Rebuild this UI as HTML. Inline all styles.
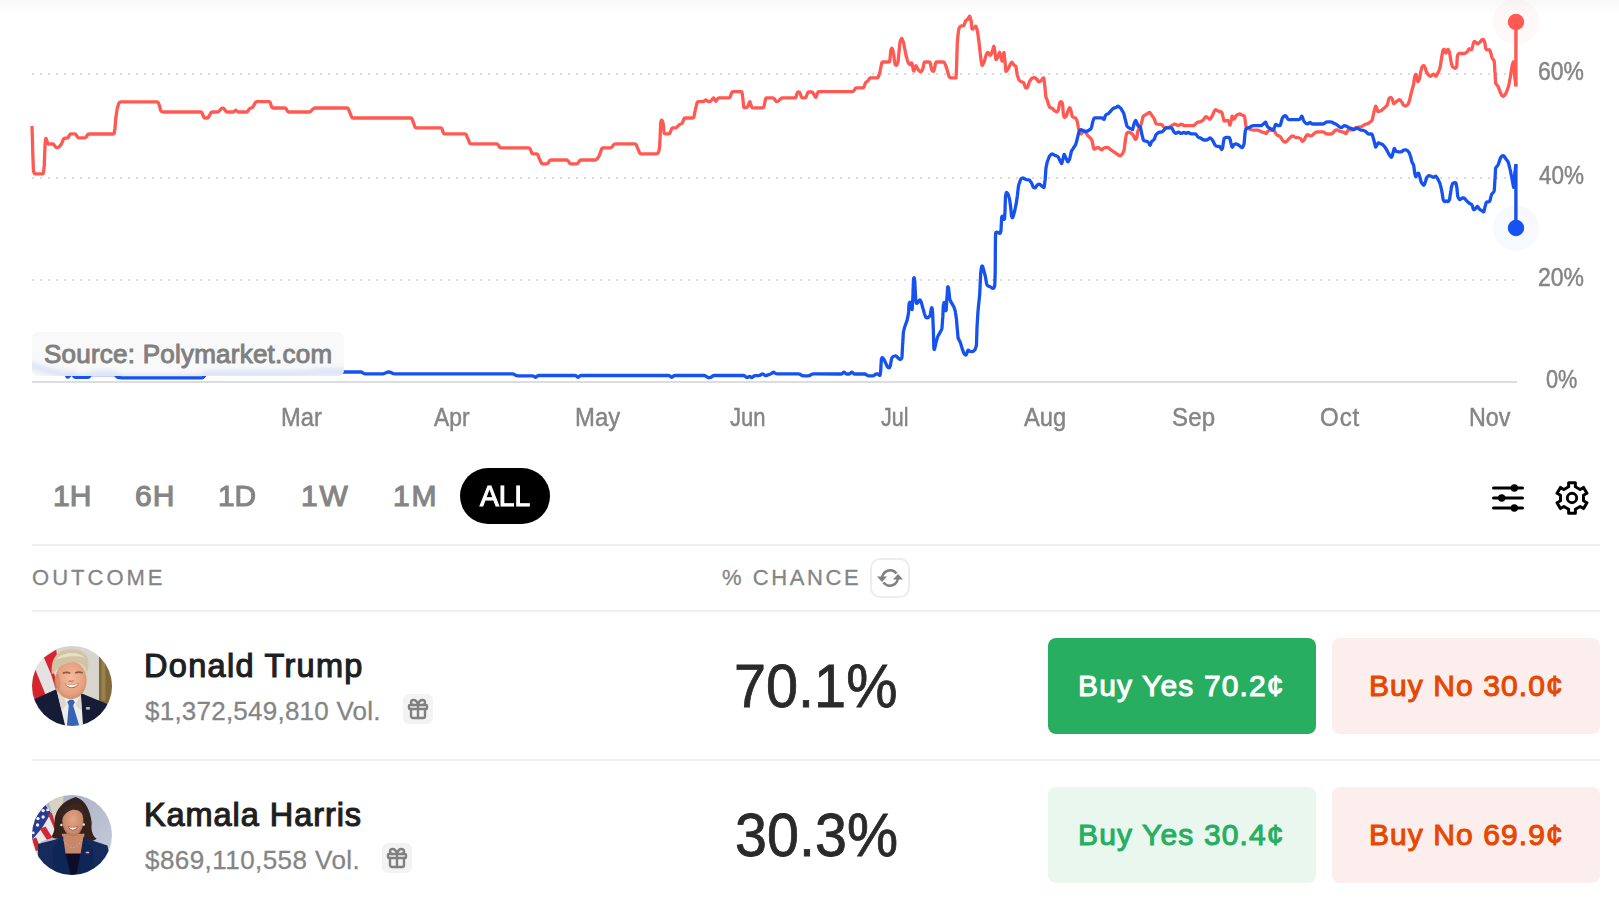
<!DOCTYPE html>
<html lang="en"><head><meta charset="utf-8"><title>Presidential Election Winner 2024</title>
<meta name="viewport" content="width=1619">
<style>
*{box-sizing:border-box;margin:0;padding:0}
html,body{width:1619px;height:907px;overflow:hidden;background:#fff}
body{font-family:"Liberation Sans",sans-serif;position:relative;color:#222}
#wrap{position:absolute;left:0;top:0;width:1619px;height:907px;overflow:hidden}
.t{position:absolute;white-space:nowrap;line-height:1;transform-origin:0 0}
.abs{position:absolute}
#topshade{position:absolute;left:0;top:0;width:1619px;height:14px;background:linear-gradient(#f8f8f8,#fafafa 25%,#fcfcfc 60%,#fff)}
#chart{position:absolute;left:0;top:0;width:1619px;height:400px}
.ax{font-size:24px;color:#858585;-webkit-text-stroke:.45px #858585}
.src{font-size:26px;color:#808080;-webkit-text-stroke:1px #808080}
.tb{font-size:30px;color:#858585;-webkit-text-stroke:1.15px #858585}
.tb.on{color:#fff;-webkit-text-stroke:1.15px #fff}
#pill{position:absolute;left:460px;top:468px;width:90px;height:56px;border-radius:28px;background:#000}
.sep{position:absolute;left:32px;width:1568px;height:2px;background:#f0f0f0}
.hd{font-size:22px;color:#858585;-webkit-text-stroke:.3px #858585}
#refresh{position:absolute;left:870px;top:558px;width:40px;height:40px;border:2px solid #ededed;border-radius:10px;background:#fff}
.av{position:absolute;left:32px;width:80px;height:80px;border-radius:50%;overflow:hidden}
.name{font-size:32.5px;color:#1f1f1f;-webkit-text-stroke:1.15px #1f1f1f}
.vol{font-size:26px;color:#858585;-webkit-text-stroke:.3px #858585}
.gift{position:absolute;width:30px;height:30px;border-radius:6px;background:#f3f3f3}
.pct{font-size:62px;color:#2a2a2a;-webkit-text-stroke:.8px #2a2a2a}
.btn{position:absolute;width:268px;height:96px;border-radius:8px}
.bt{font-size:30px}
.bg-yes1{background:#27ae60}.bg-yes2{background:#e9f7ef}.bg-no{background:#fdeeee}
.yes1{color:#fff;-webkit-text-stroke:1.05px #fff}
.yes2{color:#27ae60;-webkit-text-stroke:1.05px #27ae60}
.no{color:#e64800;-webkit-text-stroke:1.05px #e64800}
</style></head>
<body>
<div id="wrap">
<div id="topshade"></div>
<svg id="chart" width="1619" height="400" viewBox="0 0 1619 400">
<line x1="32" y1="74" x2="1518" y2="74" stroke="#dcdcdc" stroke-width="2" stroke-dasharray="2 6"/>
<line x1="32" y1="178" x2="1518" y2="178" stroke="#dcdcdc" stroke-width="2" stroke-dasharray="2 6"/>
<line x1="32" y1="280" x2="1518" y2="280" stroke="#dcdcdc" stroke-width="2" stroke-dasharray="2 6"/>
<line x1="32" y1="382" x2="1517" y2="382" stroke="#dddddd" stroke-width="2"/>
<circle cx="1516" cy="22" r="23" fill="#ff5952" fill-opacity=".04"/>
<circle cx="1516" cy="228" r="23" fill="#1652f0" fill-opacity=".035"/>
<path d="M32.0,126.0L32.7,149.0Q32.7,150.0 32.7,151.0L33.4,170.0Q33.4,171.0 33.8,171.9L34.1,173.0Q34.5,173.9 35.5,173.9L42.4,173.9Q43.4,173.9 43.5,172.9L44.2,166.0Q44.3,165.0 44.3,164.0L45.0,146.0Q45.0,145.0 45.1,144.0L45.7,138.9Q45.8,137.9 46.2,138.8L46.6,140.1Q47.0,141.0 47.3,142.0L47.5,143.0Q47.8,144.0 48.8,144.0L52.4,144.0Q53.4,144.0 54.0,144.8L54.9,146.2Q55.5,147.0 56.4,147.4L56.4,147.5Q57.3,147.9 58.1,147.4L58.7,147.0Q59.5,146.5 60.1,145.7L61.2,144.3Q61.8,143.5 62.1,142.6L62.7,140.9Q63.0,140.0 63.5,139.1L63.5,139.0Q64.0,138.1 65.0,138.1L66.9,138.1Q67.9,138.1 68.4,137.2L68.5,136.9Q69.0,136.0 69.4,135.1L69.7,134.7Q70.1,133.8 71.1,133.8L74.7,133.8Q75.7,133.8 76.1,134.7L76.4,135.1Q76.8,136.0 77.3,136.9L77.4,137.0Q77.9,137.9 78.9,137.9L84.7,137.9Q85.7,137.9 86.2,137.0L86.3,136.9Q86.8,136.0 87.3,135.1L87.4,134.9Q87.9,134.0 88.9,134.0L113.1,134.0Q114.1,134.0 114.2,133.0L114.9,129.0Q115.0,128.0 115.1,127.0L115.7,118.9Q115.8,117.9 116.0,116.9L117.0,110.0Q117.2,109.0 117.4,108.0L118.4,104.4Q118.6,103.4 119.3,102.7L119.5,102.5Q120.2,101.8 121.2,101.8L157.1,101.8Q158.1,101.8 158.4,102.7L159.2,105.1Q159.5,106.0 159.8,107.0L160.6,110.2Q160.9,111.2 161.8,111.6L161.8,111.6Q162.6,112.0 163.6,112.0L189.0,112.0Q190.0,112.0 191.0,112.0L200.7,112.0Q201.7,112.0 202.0,112.9L202.7,114.6Q203.0,115.5 203.4,116.4L203.8,117.1Q204.2,118.0 205.2,118.0L207.0,118.0Q208.0,118.0 208.5,117.1L209.2,115.9Q209.7,115.0 210.2,114.1L210.8,112.9Q211.3,112.0 212.3,112.0L217.3,112.0Q218.3,112.0 218.9,111.2L219.4,110.8Q220.0,110.0 220.7,109.3L221.3,108.7Q222.0,108.0 222.9,108.1L222.9,108.2Q223.8,108.3 224.4,109.1L224.4,109.2Q225.0,110.0 225.5,110.8L225.8,111.2Q226.3,112.0 227.3,112.0L232.7,112.0Q233.7,112.0 234.4,111.3L235.1,110.7Q235.8,110.0 236.5,110.7L237.3,111.3Q238.0,112.0 239.0,112.0L246.5,112.0Q247.5,112.0 248.0,111.1L248.1,110.9Q248.6,110.0 249.1,109.2L249.2,109.1Q249.7,108.3 250.7,108.0L251.5,107.8Q252.5,107.5 253.0,106.6L253.5,105.9Q254.0,105.0 254.5,104.1L255.3,102.6Q255.8,101.7 256.8,101.7L269.0,101.7Q270.0,101.7 270.3,102.7L270.7,104.0Q271.0,105.0 271.3,105.9L271.7,107.1Q272.0,108.0 273.0,108.0L284.8,108.0Q285.8,108.0 286.2,108.9L286.6,109.6Q287.0,110.5 287.5,111.2L287.5,111.2Q288.0,112.0 289.0,112.0L309.0,112.0Q310.0,112.0 310.7,111.3L311.3,110.7Q312.0,110.0 312.7,109.3L313.5,108.7Q314.2,108.0 315.2,108.0L347.0,108.0Q348.0,108.0 348.4,108.9L349.6,112.1Q350.0,113.0 350.4,113.9L351.6,117.1Q352.0,118.0 353.0,118.0L410.7,118.0Q411.7,118.0 412.0,118.9L413.2,122.1Q413.5,123.0 413.9,123.9L414.9,126.9Q415.3,127.8 416.3,127.8L440.7,127.8Q441.7,127.8 442.0,128.8L442.4,130.0Q442.7,131.0 443.0,131.9L443.4,132.9Q443.7,133.8 444.7,133.8L464.8,133.8Q465.8,133.8 466.2,134.7L467.6,138.1Q468.0,139.0 468.4,139.9L469.6,142.9Q470.0,143.8 471.0,143.8L496.5,143.8Q497.5,143.8 498.0,144.7L498.3,145.1Q498.8,146.0 499.4,146.8L499.4,147.0Q500.0,147.8 501.0,147.8L528.7,147.8Q529.7,147.8 530.1,148.7L530.6,150.1Q531.0,151.0 531.3,151.9L531.7,152.9Q532.0,153.8 533.0,153.8L536.5,153.8Q537.5,153.8 537.9,154.7L539.1,158.1Q539.5,159.0 539.9,159.9L541.3,162.9Q541.7,163.8 542.7,163.8L546.5,163.8Q547.5,163.8 548.1,163.0L548.2,162.8Q548.8,162.0 549.3,161.1L549.5,160.9Q550.0,160.0 551.0,160.0L566.5,160.0Q567.5,160.0 568.0,160.8L568.3,161.2Q568.8,162.0 569.4,162.8L569.4,163.0Q570.0,163.8 571.0,163.8L576.5,163.8Q577.5,163.8 578.1,163.0L578.2,162.8Q578.8,162.0 579.3,161.1L579.5,160.9Q580.0,160.0 581.0,160.0L594.8,160.0Q595.8,160.0 596.5,159.3L596.8,159.2Q597.5,158.5 598.0,157.7L598.7,156.6Q599.2,155.8 599.5,154.9L600.3,152.9Q600.6,152.0 600.9,151.1L601.7,148.7Q602.0,147.8 603.0,147.8L610.3,147.8Q611.3,147.8 611.9,147.0L612.2,146.8Q612.8,146.0 613.3,145.2L613.7,144.6Q614.2,143.8 615.2,143.8L634.8,143.8Q635.8,143.8 636.2,144.7L637.6,148.1Q638.0,149.0 638.4,149.9L639.6,152.9Q640.0,153.8 641.0,153.8L656.5,153.8Q657.5,153.8 658.0,152.9L658.3,152.4Q658.8,151.5 659.0,150.5L659.5,147.7Q659.7,146.7 659.7,145.7L660.3,133.0Q660.3,132.0 660.3,131.0L660.8,122.7Q660.8,121.7 661.2,120.8L661.3,120.6Q661.7,119.7 662.1,120.6L662.6,121.6Q663.0,122.5 663.1,123.5L663.5,127.0Q663.6,128.0 663.7,129.0L664.1,132.8Q664.2,133.8 665.2,133.8L668.7,133.8Q669.7,133.8 670.1,132.9L670.4,131.9Q670.8,131.0 671.2,130.1L671.6,128.7Q672.0,127.8 673.0,127.8L675.3,127.8Q676.3,127.8 677.0,127.1L677.3,126.7Q678.0,126.0 678.7,125.3L679.0,124.9Q679.7,124.2 680.7,124.0L681.0,124.0Q682.0,123.8 682.4,122.9L682.8,121.9Q683.2,121.0 683.5,120.1L683.9,118.9Q684.2,118.0 685.2,118.0L692.7,118.0Q693.7,118.0 693.9,117.0L694.3,115.0Q694.5,114.0 694.7,113.0L695.1,111.0Q695.3,110.0 695.5,109.0L696.2,106.0Q696.4,105.0 696.7,104.1L697.2,102.6Q697.5,101.7 698.5,101.7L702.3,101.7Q703.3,101.7 704.1,101.1L705.0,100.3Q705.8,99.7 706.6,100.3L707.5,101.1Q708.3,101.7 709.3,101.7L709.3,101.7Q710.3,101.7 710.9,100.9L711.4,100.3Q712.0,99.5 712.6,98.7L713.1,98.3Q713.7,97.5 714.1,98.4L715.4,100.8Q715.8,101.7 716.3,100.8L717.5,98.7Q718.0,97.8 719.0,97.8L729.0,97.8Q730.0,97.8 730.3,96.8L730.7,95.5Q731.0,94.5 731.3,93.6L731.7,92.6Q732.0,91.7 733.0,91.7L741.0,91.7Q742.0,91.7 742.1,92.7L742.8,98.0Q742.9,99.0 743.0,100.0L743.6,106.5Q743.7,107.5 744.7,107.5L746.5,107.5Q747.5,107.5 747.8,106.6L748.3,105.4Q748.6,104.5 748.9,103.6L749.4,102.2Q749.7,101.3 750.1,102.2L750.5,103.6Q750.9,104.5 751.2,105.4L751.7,106.9Q752.0,107.8 753.0,107.8L762.7,107.8Q763.7,107.8 763.9,106.8L764.6,103.5Q764.8,102.5 765.0,101.5L765.6,98.8Q765.8,97.8 766.8,97.8L772.7,97.8Q773.7,97.8 774.2,98.7L774.5,99.1Q775.0,100.0 775.6,100.8L775.7,100.9Q776.3,101.7 777.3,101.5L777.3,101.5Q778.3,101.3 779.0,100.6L779.3,100.2Q780.0,99.5 780.7,98.8L781.0,98.5Q781.7,97.8 782.7,97.8L794.8,97.8Q795.8,97.8 796.1,96.8L796.4,95.5Q796.7,94.5 797.0,93.5L797.2,93.0Q797.5,92.0 798.5,92.0L798.7,92.0Q799.7,92.0 800.0,92.9L800.4,94.1Q800.7,95.0 801.0,95.9L801.4,96.9Q801.7,97.8 802.7,97.8L804.8,97.8Q805.8,97.8 806.1,96.9L806.7,95.4Q807.0,94.5 807.4,93.6L807.6,92.9Q808.0,92.0 809.0,92.0L811.5,92.0Q812.5,92.0 813.0,92.9L813.7,94.1Q814.2,95.0 814.7,95.9L815.3,96.9Q815.8,97.8 816.1,96.9L816.7,95.4Q817.0,94.5 817.3,93.6L817.7,92.6Q818.0,91.7 819.0,91.7L852.3,91.7Q853.3,91.7 853.8,90.8L854.1,90.4Q854.6,89.5 855.2,88.7L855.2,88.6Q855.8,87.8 856.8,87.8L862.7,87.8Q863.7,87.8 864.1,86.9L864.4,85.9Q864.8,85.0 865.1,84.1L865.5,82.9Q865.8,82.0 866.6,81.7L866.6,81.7Q867.5,81.3 868.1,80.5L868.2,80.3Q868.8,79.5 869.4,78.7L869.4,78.6Q870.0,77.8 871.0,77.8L877.0,77.8Q878.0,77.8 878.3,76.9L878.7,75.9Q879.0,75.0 879.3,74.0L879.7,72.7Q880.0,71.7 880.2,70.7L880.8,67.5Q881.0,66.5 881.2,65.5L881.8,63.0Q882.0,62.0 883.0,62.0L888.7,62.0Q889.7,62.0 889.8,61.0L890.2,57.0Q890.3,56.0 890.4,55.0L890.7,51.0Q890.8,50.0 891.3,49.1L891.5,48.7Q892.0,47.8 892.3,48.7L893.0,50.8Q893.3,51.7 893.4,52.7L894.1,57.0Q894.2,58.0 894.3,59.0L894.9,63.2Q895.0,64.2 895.6,65.0L895.7,65.0Q896.3,65.8 896.8,64.9L897.5,63.4Q898.0,62.5 898.1,61.5L898.9,53.0Q899.0,52.0 899.1,51.0L899.9,42.7Q900.0,41.7 900.4,40.8L901.3,38.9Q901.7,38.0 902.1,38.9L902.9,40.8Q903.3,41.7 903.5,42.7L904.4,47.0Q904.6,48.0 904.8,49.0L905.6,53.2Q905.8,54.2 906.0,55.2L906.8,58.0Q907.0,59.0 907.3,60.0L908.0,62.0Q908.3,63.0 908.9,63.8L909.4,64.2Q910.0,65.0 910.6,64.2L911.1,63.3Q911.7,62.5 911.9,63.5L912.5,66.0Q912.7,67.0 912.9,68.0L913.5,70.7Q913.7,71.7 914.0,70.7L914.5,69.0Q914.8,68.0 915.1,67.1L915.5,66.2Q915.8,65.3 916.3,66.2L917.8,69.1Q918.3,70.0 919.1,70.6L920.0,71.4Q920.8,72.0 921.4,71.2L921.9,70.8Q922.5,70.0 922.7,69.0L923.2,67.0Q923.4,66.0 923.6,65.0L924.0,63.0Q924.2,62.0 925.2,62.0L929.0,62.0Q930.0,62.0 930.2,63.0L930.8,65.5Q931.0,66.5 931.2,67.5L931.8,69.8Q932.0,70.8 932.9,71.2L932.9,71.2Q933.7,71.7 933.9,70.7L934.6,68.0Q934.8,67.0 935.0,66.0L935.6,63.0Q935.8,62.0 936.8,62.0L943.2,62.0Q944.2,62.0 944.6,62.9L945.1,64.1Q945.5,65.0 945.8,65.9L946.4,67.4Q946.7,68.3 947.0,69.3L947.7,72.0Q948.0,73.0 948.3,74.0L948.9,76.0Q949.2,77.0 950.0,77.4L950.0,77.4Q950.8,77.8 951.8,77.8L954.8,77.8Q955.8,77.8 956.0,77.9L956.0,77.9Q956.1,78.0 956.1,77.0L956.7,64.0Q956.7,63.0 956.7,62.0L957.2,45.6Q957.2,44.6 957.3,43.6L957.9,36.0Q958.0,35.0 958.1,34.0L958.6,30.0Q958.7,29.0 959.2,28.1L960.1,26.7Q960.6,25.8 961.6,25.8L962.9,25.8Q963.9,25.8 964.2,24.8L965.3,21.6Q965.6,20.6 966.5,20.1L966.7,20.0Q967.6,19.5 968.1,18.6L969.3,16.5Q969.8,15.6 970.0,16.6L971.0,20.2Q971.2,21.2 971.3,22.2L972.0,28.5Q972.1,29.5 973.0,29.0L973.0,28.9Q973.9,28.4 974.5,27.6L975.2,26.6Q975.8,25.8 976.1,26.7L977.0,29.2Q977.3,30.1 977.4,31.1L978.9,41.3Q979.0,42.3 979.1,43.3L980.9,59.1Q981.0,60.1 981.2,61.1L981.9,64.9Q982.1,65.9 982.6,65.0L983.5,63.3Q984.0,62.4 984.3,61.4L985.9,55.6Q986.2,54.6 986.8,53.8L987.3,52.9Q987.9,52.1 988.5,52.9L989.7,54.9Q990.3,55.7 990.8,54.8L991.6,53.3Q992.1,52.4 992.3,51.4L993.6,46.7Q993.8,45.7 994.0,46.7L994.7,50.2Q994.9,51.2 995.0,52.2L995.8,59.1Q995.9,60.1 996.5,59.3L997.1,58.2Q997.7,57.4 998.0,56.5L999.3,52.7Q999.6,51.8 999.9,52.8L1000.7,55.8Q1001.0,56.8 1001.2,57.8L1001.9,60.8Q1002.1,61.8 1002.3,60.8L1003.8,52.8Q1004.0,51.8 1004.1,52.8L1005.0,61.4Q1005.1,62.4 1005.2,63.4L1005.8,70.8Q1005.9,71.8 1006.6,71.1L1007.2,70.3Q1007.9,69.6 1008.3,68.7L1009.7,65.5Q1010.1,64.6 1010.6,63.7L1011.3,62.7Q1011.8,61.8 1012.3,62.6L1013.5,64.4Q1014.0,65.2 1014.9,65.7L1015.0,65.8Q1015.9,66.3 1016.1,67.3L1017.2,74.7Q1017.4,75.7 1017.8,76.6L1018.7,79.3Q1019.1,80.2 1019.9,80.8L1020.5,81.3Q1021.3,81.9 1022.3,82.1L1022.7,82.2Q1023.7,82.4 1024.0,83.4L1025.2,87.0Q1025.5,88.0 1026.5,88.0L1026.5,88.0Q1027.4,88.0 1027.7,87.0L1029.0,82.9Q1029.3,81.9 1029.9,81.1L1031.3,78.8Q1031.9,78.0 1032.9,77.8L1033.7,77.6Q1034.7,77.4 1035.5,78.1L1036.1,78.6Q1036.9,79.3 1037.4,80.2L1038.1,81.3Q1038.6,82.2 1039.4,81.7L1040.0,81.3Q1040.8,80.8 1041.5,80.1L1043.1,78.1Q1043.8,77.4 1043.9,78.4L1044.8,85.9Q1044.9,86.9 1045.0,87.9L1045.7,95.9Q1045.8,96.9 1046.2,97.8L1047.1,99.9Q1047.5,100.8 1047.7,101.5L1047.7,101.5Q1047.8,102.3 1048.1,103.2L1049.2,106.4Q1049.5,107.3 1050.4,107.7L1051.4,108.0Q1052.3,108.4 1053.0,109.1L1054.4,110.7Q1055.1,111.4 1056.1,111.7L1056.3,111.8Q1057.3,112.1 1057.7,111.2L1058.3,109.9Q1058.7,109.0 1058.8,108.0L1059.4,103.9Q1059.5,102.9 1060.2,102.2L1060.5,101.9Q1061.2,101.2 1061.7,102.1L1062.0,102.5Q1062.5,103.4 1062.6,104.4L1063.3,113.6Q1063.4,114.6 1063.7,115.6L1064.0,116.9Q1064.3,117.9 1065.0,117.2L1065.5,116.9Q1066.2,116.2 1066.5,115.2L1068.1,110.5Q1068.4,109.5 1069.0,108.7L1069.3,108.1Q1069.9,107.3 1070.2,108.3L1070.7,109.7Q1071.0,110.7 1071.2,111.7L1071.9,115.2Q1072.1,116.2 1072.8,116.9L1073.3,117.2Q1074.0,117.9 1075.0,117.9L1075.0,117.9Q1075.9,117.9 1076.2,118.8L1077.0,120.9Q1077.3,121.8 1077.5,122.8L1078.3,127.5Q1078.5,128.5 1078.9,129.4L1080.6,133.5Q1081.0,134.4 1081.6,133.6L1083.4,130.9Q1084.0,130.1 1084.6,130.9L1087.3,134.9Q1087.9,135.7 1088.6,136.4L1091.1,138.9Q1091.8,139.6 1092.0,140.6L1093.3,147.0Q1093.5,148.0 1094.0,148.8L1094.0,148.8Q1094.4,149.6 1095.1,148.9L1096.1,148.1Q1096.8,147.4 1097.8,147.7L1098.1,147.7Q1099.1,148.0 1099.9,148.6L1101.0,149.4Q1101.8,150.0 1102.5,149.3L1103.4,148.4Q1104.1,147.7 1105.1,147.6L1107.0,147.5Q1108.0,147.4 1108.8,148.0L1110.5,149.6Q1111.3,150.2 1112.1,150.7L1113.9,151.9Q1114.7,152.4 1115.5,153.0L1117.2,154.1Q1118.0,154.7 1118.9,155.2L1119.3,155.5Q1120.2,156.0 1121.0,155.3L1121.6,154.8Q1122.4,154.1 1122.8,153.2L1123.7,151.1Q1124.1,150.2 1124.2,149.2L1125.1,142.3Q1125.2,141.3 1125.3,140.3L1126.2,135.0Q1126.3,134.0 1126.9,133.2L1127.4,132.6Q1128.0,131.8 1128.9,132.2L1129.9,132.5Q1130.8,132.9 1131.6,133.5L1132.2,134.0Q1133.0,134.6 1133.4,135.5L1134.9,138.7Q1135.3,139.6 1136.0,139.1L1136.0,139.1Q1136.7,138.5 1136.9,137.5L1137.6,132.3Q1137.8,131.3 1138.2,130.4L1141.0,124.4Q1141.4,123.5 1141.6,122.5L1142.9,117.2Q1143.1,116.2 1144.0,115.7L1144.9,115.1Q1145.8,114.6 1146.6,114.1L1148.9,112.6Q1149.7,112.1 1150.2,112.9L1151.5,114.9Q1152.0,115.7 1152.6,116.5L1153.6,117.7Q1154.2,118.5 1154.5,119.5L1155.6,123.0Q1155.9,124.0 1156.9,124.1L1161.0,124.3Q1162.0,124.4 1162.5,125.3L1163.2,126.5Q1163.7,127.4 1164.7,127.5L1167.0,127.7Q1168.0,127.8 1168.9,127.3L1171.7,125.6Q1172.6,125.1 1173.5,124.6L1173.9,124.3Q1174.8,123.8 1175.7,124.3L1177.2,125.2Q1178.1,125.7 1179.0,125.2L1180.4,124.5Q1181.3,124.0 1182.2,124.5L1183.4,125.2Q1184.3,125.7 1185.3,125.7L1192.7,125.7Q1193.7,125.7 1194.4,125.0L1196.4,123.1Q1197.1,122.4 1198.1,122.2L1199.4,122.0Q1200.4,121.8 1201.3,121.3L1202.3,120.6Q1203.2,120.1 1203.8,119.3L1205.4,117.0Q1206.0,116.2 1206.7,116.9L1207.1,117.2Q1207.8,117.9 1208.6,118.5L1209.2,119.0Q1210.0,119.6 1210.5,118.7L1211.8,116.6Q1212.3,115.7 1212.7,114.8L1214.1,111.6Q1214.5,110.7 1215.2,110.1L1215.2,110.1Q1215.8,109.5 1216.6,110.1L1217.6,110.8Q1218.4,111.4 1219.4,111.5L1220.7,111.7Q1221.7,111.8 1222.0,112.8L1222.5,114.7Q1222.8,115.7 1223.0,116.7L1223.7,120.2Q1223.9,121.2 1224.9,121.0L1225.2,120.9Q1226.2,120.7 1227.2,120.4L1227.4,120.4Q1228.4,120.1 1228.7,121.1L1229.6,124.7Q1229.9,125.7 1230.2,124.7L1230.9,121.7Q1231.2,120.7 1231.4,119.7L1231.9,116.7Q1232.1,115.7 1232.5,116.6L1233.6,118.7Q1234.0,119.6 1234.5,118.7L1235.7,116.3Q1236.2,115.4 1237.1,114.9L1238.6,114.2Q1239.5,113.7 1240.4,114.1L1242.0,115.0Q1242.9,115.4 1243.8,115.8L1243.8,115.8Q1244.6,116.2 1244.7,117.2L1245.3,121.4Q1245.4,122.4 1245.5,123.4L1246.1,126.9Q1246.2,127.9 1247.1,128.2L1251.5,129.8Q1252.4,130.1 1253.4,130.1L1257.5,130.1Q1258.5,130.1 1259.3,130.6L1261.0,131.7Q1261.8,132.2 1262.8,132.3L1263.6,132.3Q1264.6,132.4 1265.3,133.1L1265.6,133.3Q1266.3,134.0 1266.7,133.1L1267.5,131.6Q1267.9,130.7 1268.9,130.5L1270.3,130.3Q1271.3,130.1 1272.3,130.4L1273.6,130.7Q1274.6,131.0 1275.0,131.9L1275.9,133.7Q1276.3,134.6 1277.1,135.1L1277.2,135.2Q1278.0,135.7 1279.0,136.0L1279.2,136.0Q1280.2,136.3 1280.7,137.2L1281.9,139.3Q1282.4,140.2 1283.1,140.9L1284.0,141.7Q1284.7,142.4 1285.6,142.0L1286.0,141.7Q1286.9,141.3 1287.5,140.5L1289.1,138.7Q1289.7,137.9 1290.5,137.3L1291.6,136.3Q1292.4,135.7 1293.3,136.2L1294.3,136.9Q1295.2,137.4 1296.2,137.5L1297.6,137.6Q1298.6,137.7 1299.5,138.0L1299.9,138.2Q1300.8,138.5 1301.2,139.4L1301.9,140.9Q1302.3,141.8 1303.0,141.1L1303.4,140.9Q1304.1,140.2 1304.5,139.3L1305.4,137.2Q1305.8,136.3 1306.5,135.6L1306.8,135.1Q1307.5,134.4 1308.4,134.9L1308.8,135.2Q1309.7,135.7 1310.7,135.8L1310.9,135.8Q1311.9,135.9 1312.6,135.2L1313.5,134.2Q1314.2,133.5 1315.0,132.9L1315.6,132.4Q1316.4,131.8 1317.4,131.8L1322.6,131.8Q1323.6,131.8 1324.4,132.4L1325.6,133.4Q1326.4,134.0 1327.4,134.0L1331.0,134.0Q1332.0,134.0 1332.6,133.2L1334.2,131.5Q1334.8,130.7 1335.6,130.1L1335.6,130.1Q1336.4,129.6 1337.3,130.0L1338.3,130.6Q1339.2,131.0 1340.2,131.3L1341.0,131.5Q1342.0,131.8 1343.0,132.1L1343.2,132.1Q1344.2,132.4 1344.9,133.1L1345.2,133.3Q1345.9,134.0 1346.4,133.1L1347.1,131.6Q1347.6,130.7 1348.5,130.3L1348.9,130.0Q1349.8,129.6 1350.8,129.8L1351.0,129.9Q1352.0,130.1 1352.8,129.6L1354.6,128.4Q1355.4,127.9 1356.4,127.7L1360.5,127.0Q1361.5,126.8 1362.3,126.2L1364.0,125.0Q1364.8,124.4 1365.8,124.1L1367.2,123.8Q1368.2,123.5 1369.1,123.0L1369.1,122.9Q1370.0,122.4 1370.7,121.7L1371.5,120.8Q1372.2,120.1 1372.4,119.1L1373.7,113.4Q1373.9,112.4 1374.1,111.4L1375.4,106.7Q1375.6,105.7 1376.0,106.5L1376.0,106.5Q1376.5,107.3 1376.8,108.3L1377.5,110.8Q1377.8,111.8 1378.7,111.5L1380.2,111.0Q1381.1,110.7 1381.9,110.1L1383.7,108.5Q1384.5,107.9 1385.2,107.2L1386.6,105.8Q1387.3,105.1 1387.5,104.1L1388.7,99.4Q1388.9,98.4 1389.7,97.9L1389.8,97.8Q1390.6,97.3 1391.3,97.8L1391.3,97.8Q1392.1,98.4 1392.4,99.4L1393.3,103.0Q1393.6,104.0 1394.3,103.3L1396.0,101.9Q1396.7,101.2 1397.6,100.7L1398.6,100.0Q1399.5,99.5 1400.2,100.2L1401.0,101.1Q1401.7,101.8 1402.2,102.7L1402.9,104.2Q1403.4,105.1 1404.3,105.5L1404.7,105.8Q1405.6,106.2 1406.4,105.6L1407.1,105.2Q1407.9,104.6 1408.3,103.7L1409.1,101.6Q1409.5,100.7 1409.7,99.7L1411.0,93.9Q1411.2,92.9 1411.5,91.9L1413.1,86.1Q1413.4,85.1 1413.6,84.1L1414.4,78.3Q1414.6,77.3 1414.9,76.3L1415.4,74.9Q1415.7,73.9 1416.1,74.8L1416.4,75.8Q1416.8,76.7 1417.0,77.7L1417.7,81.3Q1417.9,82.3 1418.3,81.4L1419.2,79.3Q1419.6,78.4 1419.8,77.4L1420.5,72.7Q1420.7,71.7 1421.0,70.7L1421.8,67.7Q1422.1,66.7 1422.9,66.0L1422.9,66.0Q1423.7,65.3 1424.3,66.1L1424.5,66.4Q1425.1,67.2 1425.3,68.2L1426.0,70.7Q1426.2,71.7 1426.8,72.5L1427.9,74.2Q1428.5,75.0 1429.3,75.6L1429.6,75.9Q1430.4,76.5 1431.2,75.9L1432.7,74.5Q1433.5,73.9 1434.2,74.6L1435.2,75.8Q1435.9,76.5 1436.4,75.6L1438.0,72.6Q1438.5,71.7 1438.9,70.8L1439.8,68.1Q1440.2,67.2 1440.3,66.2L1441.4,58.9Q1441.5,57.9 1441.7,56.9L1442.8,51.1Q1443.0,50.1 1443.5,49.5L1443.5,49.5Q1444.1,49.0 1444.4,49.9L1445.4,52.6Q1445.7,53.5 1446.2,52.6L1447.5,49.9Q1448.0,49.0 1448.4,49.9L1449.2,51.5Q1449.6,52.4 1449.7,53.4L1451.0,61.4Q1451.1,62.4 1451.4,63.4L1452.1,65.8Q1452.4,66.8 1453.3,67.3L1454.3,68.0Q1455.2,68.5 1455.9,67.8L1456.0,67.5Q1456.7,66.8 1456.8,65.8L1457.3,56.7Q1457.4,55.7 1457.8,54.8L1458.1,54.4Q1458.5,53.5 1459.5,53.5L1463.7,53.5Q1464.7,53.5 1465.6,53.0L1466.6,52.3Q1467.5,51.8 1467.9,50.9L1468.7,49.4Q1469.1,48.5 1469.9,49.0L1470.8,49.6Q1471.6,50.1 1471.8,49.1L1472.8,45.6Q1473.0,44.6 1473.3,43.6L1473.8,42.2Q1474.1,41.2 1474.9,41.7L1475.0,41.8Q1475.8,42.3 1476.6,42.9L1477.0,43.4Q1477.8,44.0 1478.6,43.3L1479.5,42.5Q1480.3,41.8 1480.9,41.0L1481.3,40.3Q1481.9,39.5 1482.8,39.4L1482.8,39.4Q1483.6,39.2 1483.9,40.1L1484.4,41.4Q1484.7,42.3 1484.9,43.3L1485.6,48.0Q1485.8,49.0 1486.4,49.5L1486.4,49.5Q1487.0,50.1 1488.0,49.9L1488.7,49.8Q1489.7,49.6 1490.0,50.6L1490.6,52.5Q1490.9,53.5 1491.1,54.5L1491.8,56.9Q1492.0,57.9 1492.6,58.7L1493.6,59.9Q1494.2,60.7 1494.3,61.7L1494.9,71.4Q1495.0,72.4 1495.1,73.4L1495.5,82.5Q1495.6,83.5 1496.3,84.2L1497.4,85.6Q1498.1,86.3 1498.4,87.2L1500.0,91.5Q1500.3,92.4 1500.7,93.3L1501.6,95.1Q1502.0,96.0 1502.8,96.2L1502.8,96.2Q1503.7,96.5 1504.2,95.7L1505.9,93.2Q1506.4,92.4 1506.7,91.5L1508.4,86.7Q1508.7,85.8 1508.9,84.8L1510.4,76.7Q1510.6,75.7 1510.7,74.7L1511.9,66.7Q1512.0,65.7 1512.3,64.8L1513.2,62.2Q1513.5,61.3 1513.6,62.3L1514.7,75.9Q1514.8,76.9 1514.9,77.9L1515.9,85.5" fill="none" stroke="#ff5952" stroke-width="3.3" stroke-linejoin="round" stroke-linecap="butt"/>
<line x1="1515.9" y1="86.6" x2="1515.9" y2="22" stroke="#ff5952" stroke-width="3.4"/>
<circle cx="1516" cy="22" r="8.2" fill="#ff5952"/>
<path d="M32.6,366.0L39.0,368.0Q40.0,368.3 41.0,368.6L49.0,371.0Q50.0,371.3 51.0,371.6L57.0,373.2Q58.0,373.5 59.0,373.6L65.0,374.4Q66.0,374.5 66.4,375.4L66.9,376.3Q67.3,377.2 67.9,377.2L67.9,377.2Q68.6,377.2 69.1,376.3L69.5,375.4Q70.0,374.5 71.0,374.5L72.0,374.5Q73.0,374.5 73.5,375.4L74.0,376.4Q74.5,377.3 75.5,377.3L88.0,377.3Q89.0,377.3 89.5,376.4L90.0,375.4Q90.5,374.5 91.5,374.5L114.0,374.5Q115.0,374.5 115.6,375.3L116.9,376.7Q117.5,377.5 118.5,377.6L120.0,377.7Q121.0,377.8 122.0,377.8L202.0,377.8Q203.0,377.8 203.5,377.0L205.0,374.8Q205.5,374.0 206.5,374.0L299.0,374.0Q300.0,374.0 301.0,373.9L319.0,372.1Q320.0,372.0 321.0,372.0L360.7,372.0Q361.7,372.0 362.5,372.6L363.4,373.2Q364.2,373.8 365.2,373.8L382.3,373.8Q383.3,373.8 384.2,373.4L386.6,372.4Q387.5,372.0 388.5,372.0L389.0,372.0Q390.0,372.0 390.9,372.5L392.4,373.3Q393.3,373.8 394.3,373.8L512.3,373.8Q513.3,373.8 514.2,374.3L515.8,375.3Q516.7,375.8 517.7,375.8L532.3,375.8Q533.3,375.8 534.1,376.4L534.7,376.9Q535.5,377.5 536.3,376.9L537.2,376.1Q538.0,375.5 539.0,375.5L569.0,375.5Q570.0,375.5 571.0,375.5L574.8,375.5Q575.8,375.5 576.5,376.2L577.3,376.8Q578.0,377.5 578.8,376.8L579.5,376.2Q580.3,375.5 581.3,375.5L668.2,375.5Q669.2,375.5 670.0,376.1L670.9,376.9Q671.7,377.5 672.5,376.9L673.4,376.1Q674.2,375.5 675.2,375.5L704.0,375.5Q705.0,375.5 705.8,376.1L707.5,377.2Q708.3,377.8 709.3,377.7L709.8,377.6Q710.8,377.5 711.6,376.9L712.5,376.1Q713.3,375.5 714.3,375.5L743.2,375.5Q744.2,375.5 745.0,376.1L746.2,377.2Q747.0,377.8 747.9,377.3L748.8,376.7Q749.7,376.2 750.5,376.8L750.9,377.2Q751.7,377.8 752.5,377.2L753.4,376.4Q754.2,375.8 755.2,375.7L758.7,375.6Q759.7,375.5 760.5,375.0L761.7,374.2Q762.5,373.7 763.3,374.2L765.0,375.3Q765.8,375.8 766.7,375.4L769.9,374.2Q770.8,373.8 771.6,373.3L772.9,372.5Q773.7,372.0 774.5,372.7L775.0,373.1Q775.8,373.8 776.8,373.8L798.2,373.8Q799.2,373.8 800.1,374.3L801.6,375.3Q802.5,375.8 803.5,375.8L808.2,375.8Q809.2,375.8 810.1,375.3L811.6,374.3Q812.5,373.8 813.5,373.8L840.8,374.0Q841.8,374.0 842.5,373.3L843.3,372.5Q844.0,371.8 844.7,372.6L845.2,373.2Q845.9,374.0 846.9,374.0L848.6,374.0Q849.6,374.0 850.3,373.3L851.1,372.5Q851.8,371.8 852.5,372.5L853.3,373.3Q854.0,374.0 855.0,374.0L864.7,374.0Q865.7,374.0 866.5,374.7L867.1,375.2Q867.9,375.9 868.9,375.9L872.5,375.9Q873.5,375.9 874.3,375.2L874.9,374.7Q875.7,374.0 876.7,374.0L877.0,374.0Q878.0,374.0 878.7,374.7L879.3,375.2Q880.0,375.9 880.1,374.9L880.7,371.1Q880.8,370.1 880.8,369.1L881.3,360.0Q881.3,359.0 881.8,358.1L881.8,358.1Q882.2,357.3 882.8,358.1L883.5,358.8Q884.1,359.6 884.5,360.5L885.9,363.7Q886.3,364.6 886.8,365.5L887.5,367.0Q888.0,367.9 888.9,367.9L888.9,367.9Q889.7,367.9 889.9,366.9L890.6,364.5Q890.8,363.5 890.9,362.5L891.5,358.9Q891.6,357.9 892.4,357.3L892.8,356.8Q893.6,356.2 894.6,356.0L895.0,355.9Q896.0,355.7 896.7,356.4L897.3,357.2Q898.0,357.9 898.7,358.6L899.5,359.2Q900.2,359.9 900.8,359.1L901.3,358.7Q901.9,357.9 902.0,356.9L902.6,344.4Q902.7,343.4 902.8,342.4L903.3,333.3Q903.4,332.3 903.6,331.3L904.5,327.7Q904.7,326.7 905.1,325.8L906.5,322.0Q906.9,321.1 907.1,320.1L908.1,315.5Q908.3,314.5 908.4,313.5L908.4,313.4Q908.5,312.4 908.6,311.4L909.0,304.4Q909.1,303.4 909.5,302.6L909.5,302.6Q910.0,301.8 910.2,302.8L910.9,308.0Q911.1,309.0 911.7,309.4L911.7,309.4Q912.2,309.9 912.2,308.9L913.0,294.4Q913.0,293.4 913.0,292.4L913.5,279.9Q913.5,278.9 913.9,278.1L913.9,278.1Q914.2,277.3 914.3,278.3L914.8,281.3Q914.9,282.3 914.9,283.3L915.5,295.8Q915.5,296.8 915.6,297.8L916.2,302.7Q916.3,303.7 917.1,303.1L917.2,302.9Q918.0,302.3 918.6,301.5L919.4,300.3Q920.0,299.5 920.4,300.4L920.9,301.4Q921.3,302.3 921.6,303.3L922.7,307.5Q923.0,308.5 923.3,309.5L924.4,313.6Q924.7,314.6 925.1,315.5L925.6,317.0Q926.0,317.9 927.0,317.8L927.0,317.8Q928.0,317.7 928.7,317.0L929.5,316.4Q930.2,315.7 930.3,314.7L931.0,310.0Q931.1,309.0 931.5,308.1L931.5,308.1Q932.0,307.3 932.1,308.3L932.6,312.5Q932.7,313.5 932.7,314.5L933.4,331.4Q933.4,332.4 933.4,333.4L933.8,347.0Q933.8,348.0 934.0,349.0L934.1,349.2Q934.3,350.2 934.5,349.2L935.6,344.5Q935.8,343.5 936.0,342.5L937.3,337.9Q937.5,336.9 938.0,336.0L939.2,333.9Q939.7,333.0 940.2,332.1L941.4,330.0Q941.9,329.1 942.0,328.1L942.6,318.9Q942.7,317.9 942.8,316.9L943.3,305.6Q943.4,304.6 943.7,303.6L943.9,302.8Q944.2,301.8 944.4,302.8L945.1,308.0Q945.3,309.0 945.6,309.9L945.8,310.3Q946.1,311.2 946.2,310.2L946.9,297.8Q947.0,296.8 947.1,295.8L947.7,287.2Q947.8,286.2 948.1,287.1L948.3,287.5Q948.6,288.4 948.7,289.4L949.6,298.0Q949.7,299.0 950.1,299.9L951.0,302.0Q951.4,302.9 952.0,303.7L953.0,305.4Q953.6,306.2 953.9,307.1L955.0,310.3Q955.3,311.2 955.4,312.2L956.3,318.0Q956.4,319.0 956.5,320.0L957.4,330.3Q957.5,331.3 957.6,332.3L958.0,337.0Q958.1,338.0 958.5,338.9L959.9,341.5Q960.3,342.4 960.6,343.4L961.7,347.0Q962.0,348.0 962.3,348.9L963.4,352.1Q963.7,353.0 964.3,353.8L965.3,354.8Q965.9,355.6 966.3,354.7L966.8,353.3Q967.2,352.4 967.5,351.5L967.8,350.6Q968.1,349.7 968.9,350.4L969.5,350.9Q970.3,351.6 971.3,351.6L972.1,351.6Q973.1,351.6 973.8,350.9L974.7,349.8Q975.4,349.1 975.6,348.1L976.3,345.7Q976.5,344.7 976.5,343.7L977.0,327.8Q977.0,326.8 977.1,325.8L978.0,311.1Q978.1,310.1 978.2,309.1L979.7,294.4Q979.8,293.4 979.8,292.4L980.6,275.5Q980.6,274.5 980.7,273.5L981.4,267.7Q981.5,266.7 982.0,266.1L982.0,266.1Q982.4,265.6 982.7,266.6L983.4,269.0Q983.7,270.0 983.9,271.0L985.2,275.7Q985.4,276.7 985.6,277.7L986.6,283.5Q986.8,284.5 987.4,285.3L987.6,285.4Q988.2,286.2 989.2,286.4L989.4,286.5Q990.4,286.7 991.1,287.4L991.4,287.7Q992.1,288.4 992.9,288.4L992.9,288.4Q993.7,288.4 994.1,287.5L994.4,286.5Q994.8,285.6 994.8,284.6L995.2,272.1Q995.2,271.1 995.2,270.1L995.3,258.0Q995.3,257.0 995.3,256.0L995.4,242.9Q995.4,241.9 995.4,240.9L995.6,234.0Q995.6,233.0 996.0,232.4L996.0,232.4Q996.5,231.9 997.4,232.2L997.4,232.2Q998.2,232.6 999.0,233.1L999.1,233.2Q999.9,233.7 1000.3,232.8L1000.5,232.4Q1000.9,231.5 1001.0,230.5L1001.3,224.4Q1001.4,223.4 1001.4,222.4L1001.7,217.7Q1001.7,216.7 1002.2,216.3L1002.2,216.3Q1002.6,215.9 1002.9,216.8L1003.6,218.8Q1003.9,219.7 1004.2,219.3L1004.2,219.3Q1004.6,218.9 1004.6,217.9L1005.1,209.5Q1005.1,208.5 1005.1,207.5L1005.4,198.4Q1005.4,197.4 1005.5,196.4L1005.9,194.0Q1006.0,193.0 1006.4,192.6L1006.4,192.6Q1006.7,192.2 1007.3,193.0L1007.6,193.6Q1008.2,194.4 1008.5,195.4L1009.4,198.6Q1009.7,199.6 1009.8,200.6L1010.7,207.5Q1010.8,208.5 1010.9,209.5L1011.4,214.9Q1011.5,215.9 1011.8,216.8L1012.0,217.3Q1012.3,218.2 1012.7,217.3L1013.0,216.8Q1013.4,215.9 1013.6,214.9L1014.7,211.0Q1014.9,210.0 1015.1,209.0L1016.2,203.6Q1016.4,202.6 1016.5,201.6L1017.4,195.4Q1017.5,194.4 1017.6,193.4L1018.4,186.7Q1018.5,185.7 1018.8,184.7L1020.4,180.0Q1020.7,179.0 1021.6,178.5L1022.0,178.2Q1022.9,177.7 1023.7,178.3L1024.9,179.0Q1025.7,179.6 1026.7,179.7L1028.6,179.8Q1029.6,179.9 1030.1,180.8L1031.3,182.6Q1031.8,183.5 1032.2,184.4L1032.9,186.5Q1033.3,187.4 1034.2,187.7L1034.3,187.8Q1035.2,188.1 1035.7,187.3L1036.9,185.4Q1037.4,184.6 1038.4,184.3L1038.6,184.3Q1039.6,184.0 1040.3,184.7L1041.2,185.5Q1041.9,186.2 1042.7,186.8L1043.3,187.3Q1044.1,187.9 1044.2,186.9L1045.1,180.0Q1045.2,179.0 1045.3,178.0L1045.9,168.9Q1046.0,167.9 1046.2,166.9L1047.2,162.2Q1047.4,161.2 1047.8,160.3L1049.3,156.5Q1049.7,155.6 1050.5,155.0L1051.4,154.2Q1052.2,153.6 1053.0,154.2L1053.9,154.8Q1054.7,155.4 1055.7,155.6L1056.8,156.0Q1057.8,156.2 1058.2,157.1L1059.3,159.2Q1059.7,160.1 1060.1,161.0L1061.2,163.1Q1061.6,164.0 1061.9,163.0L1062.7,160.0Q1063.0,159.0 1063.2,158.0L1063.9,154.9Q1064.1,153.9 1064.5,154.8L1065.4,156.9Q1065.8,157.8 1066.2,158.7L1067.4,161.4Q1067.8,162.3 1068.3,161.4L1069.2,159.9Q1069.7,159.0 1069.9,158.0L1071.2,152.2Q1071.4,151.2 1071.9,150.4L1073.1,148.6Q1073.6,147.8 1074.2,147.0L1075.2,145.3Q1075.8,144.5 1076.0,143.5L1077.3,138.8Q1077.5,137.8 1077.7,136.8L1078.8,132.5Q1079.0,131.5 1079.3,130.8L1079.3,130.8Q1079.6,130.1 1080.5,129.8L1080.5,129.8Q1081.5,129.6 1082.3,130.2L1083.8,131.2Q1084.6,131.8 1085.6,131.6L1086.9,131.2Q1087.9,131.0 1088.7,130.4L1090.5,129.1Q1091.3,128.5 1091.5,127.5L1092.4,123.4Q1092.6,122.4 1092.9,121.4L1093.7,118.9Q1094.0,117.9 1095.0,117.9L1101.4,117.9Q1102.4,117.9 1103.0,118.7L1103.5,119.1Q1104.1,119.9 1104.4,118.9L1105.4,115.6Q1105.7,114.6 1106.7,114.3L1107.5,114.0Q1108.5,113.7 1109.1,112.9L1112.4,109.2Q1113.0,108.4 1113.9,108.1L1115.4,107.6Q1116.3,107.3 1117.1,106.7L1117.2,106.5Q1118.0,105.9 1118.7,106.6L1120.1,107.7Q1120.8,108.4 1121.3,109.2L1123.1,112.1Q1123.6,112.9 1123.9,113.9L1124.9,118.0Q1125.2,119.0 1125.4,120.0L1126.7,125.2Q1126.9,126.2 1127.6,126.9L1127.9,127.2Q1128.6,127.9 1129.6,128.2L1130.4,128.5Q1131.4,128.8 1132.0,129.4L1132.0,129.4Q1132.5,130.1 1132.7,129.1L1133.9,124.5Q1134.1,123.5 1134.5,122.6L1135.4,120.8Q1135.8,119.9 1136.1,120.8L1137.2,123.7Q1137.5,124.6 1137.9,125.5L1138.2,125.9Q1138.6,126.8 1139.4,126.5L1139.4,126.5Q1140.3,126.2 1140.5,127.2L1141.7,133.6Q1141.9,134.6 1142.2,135.6L1143.3,139.7Q1143.6,140.7 1144.6,140.9L1146.0,141.1Q1147.0,141.3 1147.8,141.9L1147.8,141.9Q1148.6,142.4 1149.0,143.3L1149.7,144.8Q1150.1,145.7 1150.4,144.8L1151.3,142.2Q1151.6,141.3 1152.4,140.8L1153.4,140.1Q1154.2,139.6 1154.5,138.7L1155.6,135.5Q1155.9,134.6 1156.7,134.0L1157.8,133.0Q1158.6,132.4 1159.6,132.2L1161.5,132.0Q1162.5,131.8 1163.2,131.0L1165.2,128.7Q1165.9,127.9 1166.9,127.9L1171.0,127.9Q1172.0,127.9 1172.4,128.8L1173.3,130.9Q1173.7,131.8 1174.5,132.5L1175.1,133.0Q1175.9,133.7 1176.7,133.0L1177.3,132.5Q1178.1,131.8 1179.0,132.3L1180.6,133.2Q1181.5,133.7 1182.3,133.1L1182.9,132.8Q1183.7,132.2 1184.6,132.7L1185.0,133.0Q1185.9,133.5 1186.7,133.0L1187.1,132.7Q1187.9,132.2 1188.8,132.7L1189.5,133.2Q1190.4,133.7 1191.4,133.8L1195.0,133.9Q1196.0,134.0 1196.5,134.8L1197.7,136.6Q1198.2,137.4 1199.2,137.7L1200.0,137.9Q1201.0,138.2 1201.8,138.8L1202.5,139.4Q1203.3,140.0 1204.3,140.0L1206.2,140.0Q1207.2,140.0 1208.0,139.4L1209.2,138.3Q1210.0,137.7 1210.8,138.3L1211.5,139.0Q1212.3,139.6 1212.7,140.5L1214.6,144.3Q1215.0,145.2 1215.8,145.7L1215.9,145.8Q1216.7,146.3 1217.7,146.4L1219.0,146.5Q1220.0,146.6 1220.4,147.5L1221.3,149.1Q1221.7,150.0 1222.0,149.1L1222.5,147.8Q1222.8,146.9 1222.9,145.9L1223.8,139.5Q1223.9,138.5 1224.7,138.0L1224.8,137.9Q1225.6,137.4 1226.6,137.4L1228.5,137.4Q1229.5,137.4 1229.8,138.4L1230.3,140.3Q1230.6,141.3 1230.8,142.3L1231.9,146.7Q1232.1,147.7 1232.6,146.8L1233.5,145.3Q1234.0,144.4 1235.0,144.1L1235.2,144.0Q1236.2,143.7 1237.1,144.2L1238.1,144.7Q1239.0,145.2 1239.7,145.9L1241.4,147.3Q1242.1,148.0 1242.6,147.1L1243.5,145.5Q1244.0,144.6 1244.1,143.6L1244.8,135.6Q1244.9,134.6 1245.0,133.6L1245.6,129.5Q1245.7,128.5 1246.7,128.3L1248.0,127.9Q1249.0,127.7 1249.9,127.2L1251.5,126.2Q1252.4,125.7 1253.4,125.7L1260.3,125.7Q1261.3,125.7 1262.1,125.1L1263.2,124.1Q1264.0,123.5 1264.7,122.8L1265.0,122.5Q1265.7,121.8 1266.0,122.7L1267.1,125.9Q1267.4,126.8 1268.3,127.3L1269.3,128.0Q1270.2,128.5 1271.1,128.9L1272.6,129.7Q1273.5,130.1 1273.8,129.2L1275.4,124.9Q1275.7,124.0 1276.5,124.6L1277.2,125.1Q1278.0,125.7 1279.0,125.7L1279.2,125.7Q1280.2,125.7 1280.5,124.7L1282.1,118.9Q1282.4,117.9 1283.1,117.2L1284.0,116.1Q1284.7,115.4 1285.5,115.8L1285.5,115.8Q1286.3,116.2 1286.7,117.1L1287.6,118.7Q1288.0,119.6 1289.0,119.6L1298.7,119.6Q1299.7,119.6 1300.2,118.7L1301.4,116.6Q1301.9,115.7 1302.2,116.6L1303.3,119.8Q1303.6,120.7 1304.2,121.5L1305.2,122.7Q1305.8,123.5 1306.8,123.7L1307.0,123.8Q1308.0,124.0 1308.7,123.3L1309.3,122.8Q1310.0,122.1 1310.7,122.8L1311.2,123.3Q1311.9,124.0 1312.9,124.0L1322.6,124.0Q1323.6,124.0 1324.4,123.4L1325.6,122.4Q1326.4,121.8 1327.4,121.8L1330.4,121.8Q1331.4,121.8 1332.3,122.3L1332.8,122.7Q1333.7,123.2 1334.6,123.6L1335.5,124.0Q1336.4,124.4 1337.2,125.1L1338.4,126.1Q1339.2,126.8 1340.1,127.2L1340.6,127.3Q1341.5,127.7 1342.3,127.1L1343.4,126.1Q1344.2,125.5 1345.2,125.8L1345.5,125.9Q1346.5,126.2 1347.3,126.8L1347.9,127.1Q1348.7,127.7 1349.7,128.0L1350.5,128.2Q1351.5,128.5 1352.3,129.0L1352.9,129.4Q1353.7,129.9 1354.5,129.3L1356.2,128.3Q1357.0,127.7 1357.8,128.3L1359.6,129.5Q1360.4,130.1 1361.4,130.2L1363.3,130.3Q1364.3,130.4 1365.0,131.1L1367.5,133.3Q1368.2,134.0 1369.2,134.0L1371.1,134.0Q1372.1,134.0 1372.4,135.0L1373.6,139.2Q1373.9,140.2 1374.1,141.2L1375.5,146.6Q1375.7,147.6 1376.1,146.7L1376.8,145.4Q1377.2,144.5 1377.7,143.6L1377.9,143.4Q1378.4,142.5 1379.2,143.0L1379.8,143.4Q1380.6,143.9 1381.6,144.2L1381.8,144.2Q1382.8,144.5 1383.4,145.3L1385.0,147.2Q1385.6,148.0 1386.1,148.9L1387.9,152.2Q1388.4,153.1 1388.9,154.0L1389.5,155.3Q1390.0,156.2 1390.8,156.8L1390.9,157.0Q1391.7,157.6 1392.0,156.6L1392.9,153.3Q1393.2,152.3 1393.4,151.3L1394.1,149.0Q1394.3,148.0 1394.7,148.9L1395.4,150.5Q1395.8,151.4 1396.8,151.6L1397.4,151.7Q1398.4,151.9 1399.4,151.8L1400.7,151.8Q1401.7,151.7 1402.5,151.1L1403.2,150.4Q1404.0,149.8 1405.0,149.9L1405.8,149.9Q1406.8,150.0 1407.5,150.7L1408.3,151.6Q1409.0,152.3 1409.4,153.2L1410.3,155.8Q1410.7,156.7 1410.9,157.7L1411.6,160.7Q1411.8,161.7 1412.3,162.6L1413.2,164.2Q1413.7,165.1 1413.8,166.1L1414.5,171.3Q1414.6,172.3 1414.8,173.3L1415.5,176.3Q1415.7,177.3 1416.1,176.4L1416.9,174.3Q1417.3,173.4 1417.9,173.2L1417.9,173.2Q1418.5,172.9 1418.8,173.8L1419.3,175.3Q1419.6,176.2 1419.9,177.2L1420.9,181.3Q1421.2,182.3 1421.8,183.1L1423.1,184.9Q1423.7,185.7 1424.1,184.8L1424.7,183.8Q1425.1,182.9 1425.4,181.9L1426.5,178.3Q1426.8,177.3 1427.5,176.6L1427.8,176.3Q1428.5,175.6 1429.5,175.7L1429.7,175.8Q1430.7,175.9 1431.6,176.4L1432.6,177.1Q1433.5,177.6 1434.3,177.0L1434.9,176.5Q1435.7,175.9 1436.3,176.7L1437.3,178.2Q1437.9,179.0 1438.3,179.9L1439.8,183.1Q1440.2,184.0 1440.4,185.0L1441.6,190.2Q1441.8,191.2 1442.0,192.2L1443.1,199.1Q1443.3,200.1 1443.9,200.9L1444.0,201.0Q1444.6,201.8 1445.4,201.3L1445.5,201.2Q1446.3,200.7 1447.1,201.2L1447.2,201.3Q1448.0,201.8 1448.6,201.0L1449.0,200.4Q1449.6,199.6 1449.7,198.6L1451.0,190.0Q1451.1,189.0 1451.3,188.0L1452.2,184.4Q1452.4,183.4 1453.4,183.1L1454.8,182.6Q1455.8,182.3 1456.0,183.3L1456.7,186.9Q1456.9,187.9 1457.0,188.9L1457.7,195.8Q1457.8,196.8 1458.3,197.7L1459.2,199.0Q1459.7,199.9 1460.5,199.3L1461.1,198.7Q1461.9,198.1 1462.9,198.0L1463.1,198.0Q1464.1,197.9 1464.8,198.6L1466.2,200.3Q1466.9,201.0 1467.6,201.7L1469.0,203.0Q1469.7,203.7 1470.7,204.0L1470.9,204.1Q1471.9,204.4 1472.2,205.4L1473.3,208.9Q1473.6,209.9 1474.4,209.5L1474.4,209.5Q1475.3,209.1 1475.9,208.3L1476.9,206.7Q1477.5,205.9 1478.0,206.8L1479.2,208.7Q1479.7,209.6 1480.6,210.0L1481.0,210.3Q1481.9,210.7 1482.7,211.3L1483.0,211.6Q1483.8,212.2 1484.0,211.2L1485.1,206.7Q1485.3,205.7 1485.6,204.7L1486.1,202.8Q1486.4,201.8 1487.4,201.8L1488.7,201.8Q1489.7,201.8 1489.9,200.8L1491.2,195.6Q1491.4,194.6 1492.0,193.8L1493.6,192.0Q1494.2,191.2 1494.3,190.2L1494.9,180.0Q1495.0,179.0 1495.1,178.0L1495.5,168.8Q1495.6,167.8 1496.3,167.1L1497.4,165.8Q1498.1,165.1 1498.4,164.1L1500.0,159.4Q1500.3,158.4 1500.8,157.5L1501.5,156.5Q1502.0,155.6 1502.8,155.6L1502.8,155.6Q1503.7,155.6 1504.3,156.4L1505.3,158.1Q1505.9,158.9 1506.5,159.7L1507.5,160.9Q1508.1,161.7 1508.4,162.7L1510.0,169.1Q1510.3,170.1 1510.5,171.1L1511.8,178.0Q1512.0,179.0 1512.2,180.0L1513.5,186.9Q1513.7,187.9 1513.8,186.9L1514.7,174.4Q1514.8,173.4 1514.9,172.4L1515.9,164.7" fill="none" stroke="#1652f0" stroke-width="3.3" stroke-linejoin="round" stroke-linecap="butt"/>
<line x1="1515.9" y1="164" x2="1515.9" y2="228" stroke="#1652f0" stroke-width="3.4"/>
<circle cx="1516" cy="228" r="8.2" fill="#1652f0"/>
<defs><clipPath id="bc"><rect x="32" y="332" width="312" height="44" rx="6"/></clipPath><filter id="bl" x="-5%" y="-200%" width="110%" height="500%"><feGaussianBlur stdDeviation="3.2"/></filter></defs>
<g clip-path="url(#bc)"><rect x="30" y="330" width="316" height="48" fill="#fff"/><path d="M10.0,362.5L31.6,365.8Q32.6,366.0 33.6,366.3L39.0,368.0Q40.0,368.3 41.0,368.6L49.0,371.0Q50.0,371.3 51.0,371.6L57.0,373.2Q58.0,373.5 59.0,373.6L65.0,374.4Q66.0,374.5 66.4,375.4L66.9,376.3Q67.3,377.2 67.9,377.2L67.9,377.2Q68.6,377.2 69.1,376.3L69.5,375.4Q70.0,374.5 71.0,374.5L72.0,374.5Q73.0,374.5 73.5,375.4L74.0,376.4Q74.5,377.3 75.5,377.3L88.0,377.3Q89.0,377.3 89.5,376.4L90.0,375.4Q90.5,374.5 91.5,374.5L114.0,374.5Q115.0,374.5 115.6,375.3L116.9,376.7Q117.5,377.5 118.5,377.6L120.0,377.7Q121.0,377.8 122.0,377.8L202.0,377.8Q203.0,377.8 203.5,377.0L205.0,374.8Q205.5,374.0 206.5,374.0L299.0,374.0Q300.0,374.0 301.0,373.9L319.0,372.1Q320.0,372.0 321.0,372.0L360.7,372.0Q361.7,372.0 362.5,372.6L364.2,373.8" fill="none" stroke="#1652f0" stroke-width="3.3" stroke-linejoin="round" filter="url(#bl)"/><rect x="30" y="330" width="316" height="48" fill="#f7f7f7" fill-opacity=".72"/></g>
</svg>
<div class="t ax" id="xl_mar" style="left:281.00px;top:405.05px;transform:scale(0.9885,1.070)">Mar</div>
<div class="t ax" id="xl_apr" style="left:434.00px;top:405.05px;transform:scale(0.9516,1.070)">Apr</div>
<div class="t ax" id="xl_may" style="left:575.00px;top:405.05px;transform:scale(0.9942,1.070)">May</div>
<div class="t ax" id="xl_jun" style="left:730.00px;top:405.05px;transform:scale(0.9181,1.070)">Jun</div>
<div class="t ax" id="xl_jul" style="left:881.00px;top:405.05px;transform:scale(0.8948,1.070)">Jul</div>
<div class="t ax" id="xl_aug" style="left:1024.00px;top:405.05px;transform:scale(0.9875,1.070)">Aug</div>
<div class="t ax" id="xl_sep" style="left:1172.00px;top:405.05px;letter-spacing:0.179px;transform:scale(1.0000,1.070)">Sep</div>
<div class="t ax" id="xl_oct" style="left:1320.00px;top:405.05px;letter-spacing:0.968px;transform:scale(1.0000,1.070)">Oct</div>
<div class="t ax" id="xl_nov" style="left:1469.00px;top:405.05px;transform:scale(0.9705,1.070)">Nov</div>
<div class="t ax" id="yl_60" style="left:1538.00px;top:58.75px;transform:scale(0.9547,1.070)">60%</div>
<div class="t ax" id="yl_40" style="left:1539.00px;top:162.75px;transform:scale(0.9373,1.070)">40%</div>
<div class="t ax" id="yl_20" style="left:1538.00px;top:264.85px;transform:scale(0.9583,1.070)">20%</div>
<div class="t ax" id="yl_0" style="left:1546.00px;top:366.95px;transform:scale(0.9048,1.070)">0%</div>
<div class="t src" id="t_src" style="left:44.00px;top:341.45px;letter-spacing:0.231px">Source: Polymarket.com</div>
<div id="pill"></div>
<div class="t tb" id="tb_1h" style="left:53.00px;top:480.80px;letter-spacing:0.152px">1H</div>
<div class="t tb" id="tb_6h" style="left:135.00px;top:480.80px;letter-spacing:1.186px">6H</div>
<div class="t tb" id="tb_1d" style="left:218.00px;top:480.80px;transform:scale(0.9953,1.000)">1D</div>
<div class="t tb" id="tb_1w" style="left:301.00px;top:480.80px;letter-spacing:1.833px">1W</div>
<div class="t tb" id="tb_1m" style="left:393.00px;top:480.80px;letter-spacing:1.823px">1M</div>
<div class="t tb on" id="tb_all" style="left:480.00px;top:480.80px;transform:scale(0.9400,1.000)">ALL</div>
<svg class="abs" style="left:1490px;top:480px" width="36" height="36" viewBox="0 0 36 36">
<g stroke="#000" stroke-width="3" stroke-linecap="round" fill="none"><line x1="3.5" y1="8" x2="32.5" y2="8"/><line x1="3.5" y1="18" x2="32.5" y2="18"/><line x1="3.5" y1="28" x2="32.5" y2="28"/></g>
<g fill="#000"><circle cx="24.3" cy="8" r="3.7"/><circle cx="11.7" cy="18" r="3.7"/><circle cx="24.3" cy="28" r="3.7"/></g></svg>
<svg class="abs" style="left:1552px;top:477.8px" width="40" height="40" viewBox="0 0 40 40" fill="none" stroke="#000" stroke-width="3" stroke-linejoin="round"><path d="M16.63 8.70 L16.63 4.70 L23.37 4.70 L23.37 8.70 L28.10 11.43 L31.57 9.43 L34.94 15.27 L31.47 17.27 L31.47 22.73 L34.94 24.73 L31.57 30.57 L28.10 28.57 L23.37 31.30 L23.37 35.30 L16.63 35.30 L16.63 31.30 L11.90 28.57 L8.43 30.57 L5.06 24.73 L8.53 22.73 L8.53 17.27 L5.06 15.27 L8.43 9.43 L11.90 11.43Z"/><circle cx="20" cy="20" r="4.7" stroke-width="2.9"/></svg>
<div class="sep" style="top:544px"></div>
<div class="t hd" id="t_outcome" style="left:32.00px;top:566.65px;letter-spacing:3.014px">OUTCOME</div>
<div class="t hd" id="t_chance" style="left:722.00px;top:566.65px;letter-spacing:2.582px">% CHANCE</div>
<div id="refresh"><svg style="position:absolute;left:4px;top:7px" width="28" height="22" viewBox="0 0 28 22">
<g fill="none" stroke="#808080" stroke-width="2.6"><path d="M6.2 12.5 A8 8 0 0 1 20.5 6.5"/><path d="M21.8 9.5 A8 8 0 0 1 7.5 15.5"/></g>
<path d="M1 9.5 L11 9.5 L6 15 Z" fill="#808080"/><path d="M27 12.5 L17 12.5 L22 7 Z" fill="#808080"/></svg></div>
<div class="sep" style="top:610px"></div>
<div class="av" style="top:646px"><svg width="80" height="80" viewBox="0 0 80 80">
<defs><filter id="fb1" x="-10%" y="-10%" width="120%" height="120%"><feGaussianBlur stdDeviation="7"/></filter>
<radialGradient id="tf" cx="50%" cy="45%" r="60%"><stop offset="0" stop-color="#f4bb9c"/><stop offset=".7" stop-color="#e5a17d"/><stop offset="1" stop-color="#c98463"/></radialGradient></defs>
<rect width="80" height="80" fill="#d5d2cb"/>
<g transform="scale(0.09921) translate(-100,-50)" filter="url(#fb1)">
<rect x="600" y="40" width="200" height="560" fill="#d8d5cf"/>
<rect x="775" y="40" width="150" height="620" fill="#806739"/>
<rect x="800" y="150" width="40" height="450" fill="#9a824e"/>
<path d="M80 40 L360 40 L360 600 L80 600Z" fill="#e6e2e4"/>
<path d="M220 165 L345 85 L352 150 L318 300 L356 470 L338 480 L290 330Z" fill="#d9272d"/>
<path d="M90 420 L132 285 L238 545 L110 590Z" fill="#d4252b"/>
<path d="M90 600 L345 485 L460 560 L590 525 L870 640 L920 870 L90 870Z" fill="#141a34"/>
<path d="M345 482 L592 528 L614 845 L436 862Z" fill="#f0eee8"/>
<path d="M345 482 L420 560 L452 640 L400 700Z M592 528 L560 600 L540 650 L600 700Z" fill="#dcd8cf"/>
<path d="M455 612 L480 592 L515 592 L532 618 L515 650 L578 860 L452 860 L470 650Z" fill="#3465b4"/>
<ellipse cx="492" cy="395" rx="158" ry="192" fill="url(#tf)"/>
<path d="M300 335 C292 230 310 150 390 105 C470 70 600 75 650 150 C680 200 668 280 652 335 C650 280 630 235 560 215 C480 205 400 225 350 290 C335 310 318 335 300 335Z" fill="#d2c4a2"/>
<path d="M340 190 C400 110 560 95 640 170 C560 140 430 150 340 190Z" fill="#e7dfc8"/>
<path d="M432 428 Q500 452 572 426 Q560 470 500 476 Q445 472 432 428Z" fill="#b9664f"/>
<path d="M442 433 Q500 455 563 431 Q552 462 500 466 Q452 463 442 433Z" fill="#fbf7f2"/>
<path d="M410 325 q40 -18 75 0 M535 322 q40 -18 75 0" stroke="#8a5a42" stroke-width="16" fill="none"/>
<path d="M470 400 q25 14 50 0" stroke="#c47e60" stroke-width="14" fill="none"/>
<ellipse cx="355" cy="420" rx="30" ry="90" fill="#c98463" opacity=".6"/>
<rect x="645" y="665" width="38" height="26" fill="#c9b9b0"/>
</g></svg></div>
<div class="t name" id="t_name0" style="left:144.00px;top:649.85px;letter-spacing:1.298px">Donald Trump</div>
<div class="t vol" id="t_vol0" style="left:145.00px;top:698.25px;letter-spacing:0.232px">$1,372,549,810 Vol.</div>
<div class="gift" style="left:403px;top:694px"><svg style="position:absolute;left:3px;top:3px" width="24" height="24" viewBox="0 0 24 24" fill="none" stroke="#808080" stroke-width="2.4" stroke-linecap="round" stroke-linejoin="round"><rect x="3" y="8" width="18" height="4" rx="1"/><path d="M12 8v13"/><path d="M19 12v7a2 2 0 0 1-2 2H7a2 2 0 0 1-2-2v-7"/><path d="M7.5 8a2.5 2.5 0 0 1 0-5A4.8 8 0 0 1 12 8a4.8 8 0 0 1 4.5-5 2.5 2.5 0 0 1 0 5"/></svg></div>
<div class="t pct" id="t_pct0" style="left:734.00px;top:654.50px;transform:scale(0.9294,1.000)">70.1%</div>
<div class="btn bg-yes1" style="left:1048px;top:638px"></div>
<div class="t bt yes1" id="t_yes0" style="left:1078.00px;top:670.70px;letter-spacing:1.141px">Buy Yes 70.2¢</div>
<div class="btn bg-no" style="left:1332px;top:638px"></div>
<div class="t bt no" id="t_no0" style="left:1369.00px;top:670.70px;letter-spacing:1.077px">Buy No 30.0¢</div>
<div class="sep" style="top:759px"></div>
<div class="av" style="top:795px"><svg width="80" height="80" viewBox="0 0 80 80">
<defs><filter id="fb2" x="-10%" y="-10%" width="120%" height="120%"><feGaussianBlur stdDeviation="7"/></filter>
<linearGradient id="hb" x1="0" y1="0" x2="1" y2="1"><stop offset="0" stop-color="#a2abc2"/><stop offset="1" stop-color="#c9cedb"/></linearGradient>
<radialGradient id="hf" cx="50%" cy="45%" r="60%"><stop offset="0" stop-color="#e2a585"/><stop offset=".75" stop-color="#c88a6b"/><stop offset="1" stop-color="#a56a50"/></radialGradient></defs>
<rect width="80" height="80" fill="url(#hb)"/>
<g transform="scale(0.09921) translate(-100,-50)" filter="url(#fb2)">
<path d="M240 40 L420 40 L400 260 L320 280Z" fill="#d6d2c6"/>
<path d="M90 640 L90 330 L235 140 L300 235 L355 390 L310 480 L190 520 L150 640Z" fill="#ece8ec"/>
<path d="M90 340 L232 145 L292 232 L200 385 L100 500Z" fill="#2b3b8e"/>
<g fill="#f4f4f8"><circle cx="212" cy="207" r="17"/><circle cx="258" cy="200" r="15"/><circle cx="160" cy="288" r="17"/><circle cx="212" cy="272" r="17"/><circle cx="156" cy="352" r="17"/><circle cx="112" cy="432" r="14"/></g>
<path d="M262 245 L300 232 L352 385 L330 402Z" fill="#cf2a32"/>
<path d="M180 392 L236 368 L306 482 L250 502Z" fill="#cf2a32"/>
<path d="M100 495 L142 476 L192 600 L140 618Z" fill="#cf2a32"/>
<path d="M330 300 C335 200 410 110 540 70 C640 100 690 210 702 330 C690 420 720 470 752 492 C700 530 640 520 600 470 L400 480 C360 500 320 490 296 468 C340 410 320 360 330 300Z" fill="#35241e"/>
<path d="M160 545 L330 500 L410 468 L620 478 L700 505 L860 560 L930 880 L160 880Z" fill="#14295c"/>
<path d="M400 440 L630 440 L600 645 L425 645Z" fill="#c68868"/>
<path d="M432 640 L592 640 L562 850 L488 860Z" fill="#0b0f2c"/>
<path d="M412 462 L438 640 L492 862 L330 862 L305 600Z M618 472 L590 640 L546 862 L720 862 L715 600Z" fill="#112556"/>
<ellipse cx="512" cy="312" rx="106" ry="152" fill="url(#hf)"/>
<path d="M400 300 C405 190 470 130 560 140 C610 160 640 230 640 300 C610 220 560 190 500 200 C450 215 420 250 400 300Z" fill="#3a2720"/>
<path d="M462 366 Q512 382 564 362 Q552 404 512 410 Q474 404 462 366Z" fill="#a8504a"/>
<path d="M472 372 Q512 386 555 369 Q544 396 512 400 Q482 396 472 372Z" fill="#fbf6f4"/>
<path d="M416 500 Q505 655 602 505" stroke="#ddd2c8" stroke-width="9" stroke-dasharray="10 24" fill="none" opacity=".85"/>
<circle cx="396" cy="352" r="12" fill="#efe9e2"/><circle cx="622" cy="348" r="12" fill="#efe9e2"/>
<rect x="642" y="622" width="34" height="16" fill="#e7a7b4"/>
</g></svg></div>
<div class="t name" id="t_name1" style="left:144.00px;top:798.85px;letter-spacing:0.929px">Kamala Harris</div>
<div class="t vol" id="t_vol1" style="left:145.00px;top:847.25px;letter-spacing:0.441px">$869,110,558 Vol.</div>
<div class="gift" style="left:382px;top:843px"><svg style="position:absolute;left:3px;top:3px" width="24" height="24" viewBox="0 0 24 24" fill="none" stroke="#808080" stroke-width="2.4" stroke-linecap="round" stroke-linejoin="round"><rect x="3" y="8" width="18" height="4" rx="1"/><path d="M12 8v13"/><path d="M19 12v7a2 2 0 0 1-2 2H7a2 2 0 0 1-2-2v-7"/><path d="M7.5 8a2.5 2.5 0 0 1 0-5A4.8 8 0 0 1 12 8a4.8 8 0 0 1 4.5-5 2.5 2.5 0 0 1 0 5"/></svg></div>
<div class="t pct" id="t_pct1" style="left:735.00px;top:803.50px;transform:scale(0.9272,1.000)">30.3%</div>
<div class="btn bg-yes2" style="left:1048px;top:787px"></div>
<div class="t bt yes2" id="t_yes1" style="left:1078.00px;top:819.70px;letter-spacing:1.141px">Buy Yes 30.4¢</div>
<div class="btn bg-no" style="left:1332px;top:787px"></div>
<div class="t bt no" id="t_no1" style="left:1369.00px;top:819.70px;letter-spacing:1.077px">Buy No 69.9¢</div>
</div>
</body></html>
